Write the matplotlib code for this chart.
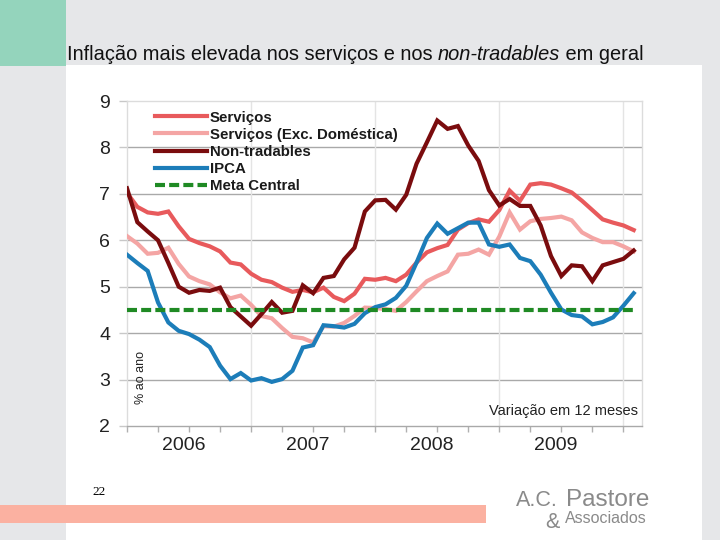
import matplotlib
matplotlib.use("Agg")
import matplotlib.pyplot as plt
from matplotlib.patches import Rectangle
import numpy as np

# ---------------- data (monthly, Jan 2006 - Feb 2010) ----------------
servicos = [7.02, 6.72, 6.60, 6.57, 6.62, 6.30, 6.03, 5.94, 5.87, 5.76,
            5.52, 5.48, 5.28, 5.15, 5.10, 4.98, 4.89, 4.93, 4.88, 4.98,
            4.78, 4.69, 4.85, 5.17, 5.15, 5.19, 5.12, 5.26, 5.52, 5.74,
            5.83, 5.90, 6.23, 6.37, 6.45, 6.40, 6.65, 7.07, 6.85, 7.20,
            7.23, 7.20, 7.12, 7.03, 6.85, 6.65, 6.45, 6.38, 6.32, 6.22]
servicos_exc = [6.09, 5.93, 5.71, 5.73, 5.84, 5.49, 5.22, 5.12, 5.05, 4.88,
                4.75, 4.81, 4.61, 4.37, 4.32, 4.11, 3.92, 3.89, 3.80, 4.15,
                4.14, 4.22, 4.37, 4.55, 4.54, 4.52, 4.48, 4.67, 4.90, 5.12,
                5.23, 5.33, 5.69, 5.71, 5.80, 5.69, 6.08, 6.60, 6.23, 6.41,
                6.46, 6.48, 6.51, 6.43, 6.17, 6.05, 5.96, 5.96, 5.87, 5.76]
non_tradables = [7.12, 6.39, 6.19, 6.00, 5.51, 5.00, 4.87, 4.93, 4.91, 4.98,
                 4.56, 4.36, 4.16, 4.41, 4.67, 4.44, 4.48, 5.03, 4.86, 5.19,
                 5.23, 5.59, 5.84, 6.62, 6.86, 6.87, 6.66, 6.98, 7.65, 8.11,
                 8.58, 8.40, 8.46, 8.04, 7.71, 7.08, 6.75, 6.89, 6.74, 6.74,
                 6.32, 5.66, 5.23, 5.46, 5.44, 5.12, 5.46, 5.53, 5.60, 5.78]
ipca = [5.69, 5.51, 5.34, 4.66, 4.23, 4.05, 3.98, 3.86, 3.70, 3.30,
        3.01, 3.14, 2.98, 3.03, 2.95, 3.01, 3.19, 3.69, 3.74, 4.17,
        4.15, 4.12, 4.20, 4.43, 4.56, 4.62, 4.76, 5.02, 5.52, 6.05,
        6.36, 6.14, 6.26, 6.38, 6.38, 5.91, 5.86, 5.91, 5.62, 5.55,
        5.26, 4.87, 4.51, 4.39, 4.36, 4.19, 4.24, 4.34, 4.59, 4.86]
meta_central = [4.5] * 50

years = ["2006", "2007", "2008", "2009"]
labels = ["Serviços", "Serviços (Exc. Doméstica)", "Non-tradables", "IPCA", "Meta Central"]
colors = ["#e85a5c", "#f4a5a4", "#7a0c0e", "#1c7db9", "#1f8a24"]

months = np.arange(len(ipca))

# ---------------- figure / slide ----------------
W, H = 720, 540
fig = plt.figure(figsize=(7.2, 5.4), dpi=100, facecolor="#e6e7e9")

def px_rect(x0, y0, x1, y1, color):
    fig.add_artist(Rectangle((x0 / W, 1 - y1 / H), (x1 - x0) / W, (y1 - y0) / H,
                             transform=fig.transFigure, facecolor=color,
                             edgecolor="none", zorder=0))

px_rect(66, 65, 702, 540, "white")
px_rect(0, 0, 66, 66, "#94d4bc")
px_rect(0, 505, 486, 523, "#fbb1a1")

title_fs = 14.4
title_family = "Liberation Sans"
t1 = fig.text(67 / W, 1 - 60 / H, "Inflação mais elevada nos serviços e nos ",
              family=title_family, fontsize=title_fs,
              color="#111111", ha="left", va="baseline")
fig.canvas.draw()
bb = t1.get_window_extent()
t2 = fig.text(bb.x1 / W, 1 - 60 / H, "non-tradables",
              family=title_family, fontsize=title_fs,
              style="italic", color="#111111", ha="left", va="baseline")
fig.canvas.draw()
bb2 = t2.get_window_extent()
fig.text(bb2.x1 / W, 1 - 60 / H, " em geral",
         family=title_family, fontsize=title_fs,
         color="#111111", ha="left", va="baseline")

fig.text(92 / W, 1 - 495 / H, "22", family="Liberation Serif", fontsize=9.5,
         color="black", ha="left", va="baseline")

logo_family = "Liberation Sans"
fig.text(516 / W, 1 - 506 / H, "A.C.", family=logo_family, fontsize=15.5,
         color="#8a8a8a", ha="left", va="baseline")
fig.text(566 / W, 1 - 506 / H, "Pastore", family=logo_family, fontsize=17.5,
         color="#8a8a8a", ha="left", va="baseline")
fig.text(545 / W, 1 - 528 / H, "&", family=logo_family, fontsize=15.5,
         color="#8a8a8a", ha="left", va="baseline")
fig.text(565 / W, 1 - 523 / H, "Associados", family=logo_family, fontsize=11.5,
         color="#8a8a8a", ha="left", va="baseline")

# ---------------- chart ----------------
ax = fig.add_axes([127 / W, 1 - 426 / H, 515 / W, 325 / H])
ax.set_facecolor("white")

for vals, lab, col in zip([servicos, servicos_exc, non_tradables, ipca],
                          labels[:4], colors[:4]):
    ax.plot(months, vals, color=col, lw=3.0, label=lab, solid_joinstyle="miter",
            zorder=3)
ax.plot(months, meta_central, color=colors[4], lw=3.0, ls=(0, (2.4, 1.0)),
        label=labels[4], zorder=4)

ax.set_ylim(2, 9)
ax.set_xlim(0, 49.8)
ax.set_yticks(range(2, 10))
ax.set_yticklabels([str(v) for v in range(2, 10)], family="Liberation Sans",
                   fontsize=14, color="#222222")
for yv in range(3, 9):
    ax.axhline(yv, color="#a9a9a9", lw=1.0, zorder=1)
for b in (12, 24, 36, 48):
    ax.axvline(b, color="#e4e4e4", lw=1.0, zorder=1)

ax.set_xticks([5.5, 17.5, 29.5, 41.5])
ax.set_xticklabels(years, family="Liberation Sans", fontsize=14, color="#222222")
ax.set_xticks(np.arange(0, 50, 3), minor=True)
ax.tick_params(axis="x", which="major", length=0, pad=8)
ax.tick_params(axis="x", which="minor", length=4, color="#b0b0b0", width=1)
ax.tick_params(axis="y", length=6, color="#c8c8c8", width=1, pad=6)

for s in ("top", "right", "left"):
    ax.spines[s].set_color("#dcdcdc")
    ax.spines[s].set_linewidth(1)
ax.spines["bottom"].set_color("#a9a9a9")
ax.spines["bottom"].set_linewidth(1)

leg = ax.legend(loc="upper left", bbox_to_anchor=(0.0427, 0.989), frameon=False,
                handlelength=3.47, handletextpad=0.2, labelspacing=0.21,
                borderaxespad=0.0,
                prop={"family": "Liberation Sans", "weight": "bold", "size": 10.8})
for t in leg.get_texts():
    t.set_color("#1a1a1a")

ax.text(0.027, 0.148, "% ao ano", transform=ax.transAxes, rotation=90,
        ha="center", va="center", family="Liberation Sans", fontsize=9,
        color="#222222")
ax.text(0.992, 0.046, "Variação em 12 meses", transform=ax.transAxes,
        ha="right", va="center", family="Liberation Sans", fontsize=10.5,
        color="#222222")

fig.savefig("out.png", dpi=100, facecolor=fig.get_facecolor())
